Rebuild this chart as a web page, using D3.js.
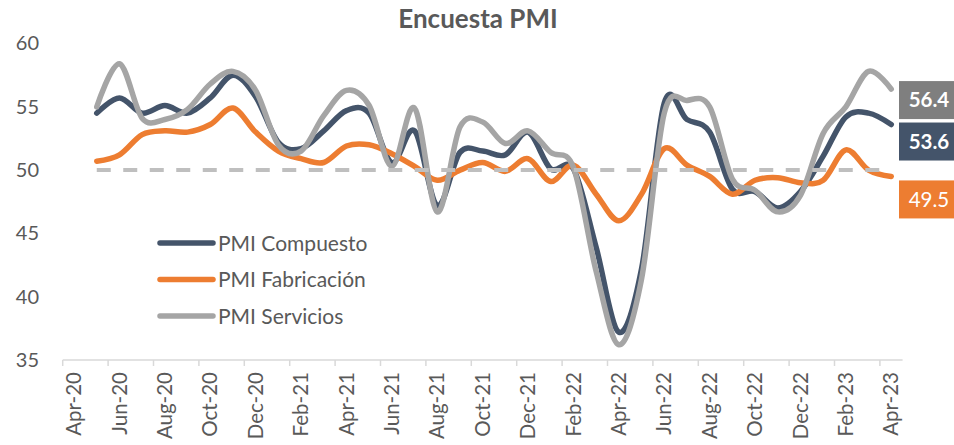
<!DOCTYPE html>
<html>
<head>
<meta charset="utf-8">
<script src="https://cdnjs.cloudflare.com/ajax/libs/d3/7.8.5/d3.min.js"></script>
<style>
	body { margin: 0; background: #fff; }
	text { font-family: Lato, "Open Sans", sans-serif; }
</style>
</head>
<body>
<svg id="chart" width="954" height="445"></svg>
<script>
/*--data--*/
var months = ["Apr-20", "May-20", "Jun-20", "Jul-20", "Aug-20", "Sep-20", "Oct-20", "Nov-20", "Dec-20",
	"Jan-21", "Feb-21", "Mar-21", "Apr-21", "May-21", "Jun-21", "Jul-21", "Aug-21", "Sep-21", "Oct-21", "Nov-21", "Dec-21",
	"Jan-22", "Feb-22", "Mar-22", "Apr-22", "May-22", "Jun-22", "Jul-22", "Aug-22", "Sep-22", "Oct-22", "Nov-22", "Dec-22",
	"Jan-23", "Feb-23", "Mar-23", "Apr-23"];

var compuesto = [null, 54.5, 55.7, 54.5, 55.1, 54.5, 55.7, 57.5, 55.8,
	52.2, 51.7, 53.1, 54.7, 54.5, 50.6, 53.1, 47.2, 51.4, 51.5, 51.2, 53.0,
	50.1, 50.1, 43.9, 37.2, 42.2, 55.3, 54.0, 53.0, 48.5, 48.3, 47.0, 48.3,
	51.1, 54.2, 54.5, 53.6];

var fabricacion = [null, 50.7, 51.2, 52.8, 53.1, 53.0, 53.6, 54.9, 53.0,
	51.5, 50.9, 50.6, 51.9, 52.0, 51.3, 50.3, 49.2, 50.0, 50.6, 49.9, 50.9,
	49.1, 50.4, 48.1, 46.0, 48.1, 51.7, 50.4, 49.5, 48.1, 49.2, 49.4, 49.0,
	49.2, 51.6, 50.0, 49.5];

var servicios = [null, 55.0, 58.4, 54.1, 54.0, 54.8, 56.8, 57.8, 56.3,
	52.0, 51.5, 54.3, 56.3, 55.1, 50.3, 54.9, 46.7, 53.4, 53.8, 52.1, 53.1,
	51.4, 50.2, 42.0, 36.2, 41.4, 54.5, 55.5, 55.0, 49.3, 48.4, 46.7, 48.0,
	52.9, 55.0, 57.8, 56.4];

var umbral = 50;
var yTicks = [35, 40, 45, 50, 55, 60];
var xTickLabels = months.filter(function (m, i) { return i % 2 === 0; });

var series = [
	{ name: "PMI Compuesto", values: compuesto, color: "#44546a", box: "#44546a", bold: true, dy: 17 },
	{ name: "PMI Fabricación", values: fabricacion, color: "#ed7d31", box: "#ed7d31", bold: false, dy: 23 },
	{ name: "PMI Servicios", values: servicios, color: "#a5a5a5", box: "#7f7f7f", bold: true, dy: 11 }
];

/*--scales--*/
var svg = d3.select("#chart");
var x = d3.scaleBand().domain(months).range([62.7, 902.6]).padding(0);
var y = d3.scaleLinear().domain([35, 60]).range([360, 43.5]);
var bw = x.bandwidth();
function cx(m) { return x(m) + bw / 2; }

//title
svg.append("text")
	.attr("x", 478).attr("y", 28)
	.attr("text-anchor", "middle")
	.style("font-size", "26px").style("font-weight", "bold")
	.style("fill", "#595959")
	.text("Encuesta PMI");

//y axis labels
var yAxis = svg.append("g")
	.attr("transform", "translate(39,0)")
	.call(d3.axisLeft(y).tickValues(yTicks).tickSize(0).tickPadding(0));
yAxis.select(".domain").remove();
yAxis.selectAll("text").style("font-size", "20px").style("fill", "#595959")
	.style("font-family", "Lato, 'Open Sans', sans-serif");

//x axis
var xAxis = svg.append("g")
	.attr("transform", "translate(0," + y(35) + ")")
	.call(d3.axisBottom(x).tickValues(xTickLabels).tickSizeOuter(0).tickSize(6));
xAxis.select(".domain").remove();
xAxis.selectAll(".tick line")
	.attr("x1", -bw / 2).attr("x2", -bw / 2)
	.style("stroke", "#d9d9d9").style("stroke-width", 1.5);
xAxis.selectAll(".tick text")
	.attr("transform", "rotate(-90)")
	.attr("x", -12).attr("y", 0).attr("dy", "0.35em")
	.attr("text-anchor", "end")
	.style("font-size", "20.5px").style("fill", "#595959")
	.style("font-family", "Lato, 'Open Sans', sans-serif");
svg.append("line")
	.attr("x1", x.range()[0]).attr("x2", x.range()[1])
	.attr("y1", y(35)).attr("y2", y(35))
	.style("stroke", "#d9d9d9").style("stroke-width", 1.5);

//lines
var line = d3.line()
	.defined(function (d) { return d.v !== null; })
	.x(function (d) { return cx(d.m); })
	.y(function (d) { return y(d.v); })
	.curve(d3.curveCardinal.tension(0));

series.forEach(function (s) {
	var pts = months.map(function (m, i) { return { m: m, v: s.values[i] }; });
	svg.append("path")
		.attr("d", line(pts))
		.style("fill", "none")
		.style("stroke", s.color)
		.style("stroke-width", 5.5)
		.style("stroke-linejoin", "round")
		.style("stroke-linecap", "round");
});

//50 line
var ref = months.map(function (m, i) { return { m: m, v: compuesto[i] === null ? null : umbral }; });
svg.append("path")
	.attr("d", d3.line().defined(function (d) { return d.v !== null; })
		.x(function (d) { return cx(d.m); }).y(function (d) { return y(d.v); })(ref))
	.style("fill", "none")
	.style("stroke", "#bfbfbf")
	.style("stroke-width", 4)
	.style("stroke-dasharray", "14,12.5");

//end labels
series.forEach(function (s) {
	var last = s.values[s.values.length - 1];
	var yc = y(last) + s.dy;
	svg.append("rect")
		.attr("x", 899).attr("y", yc - 19)
		.attr("width", 56).attr("height", 38)
		.style("fill", s.box);
	svg.append("text")
		.attr("x", 929).attr("y", yc).attr("dy", "0.36em")
		.attr("text-anchor", "middle")
		.style("font-size", "20.5px")
		.style("font-weight", s.bold ? "bold" : "normal")
		.style("fill", "#fff")
		.text(d3.format(".1f")(last));
});

//legend
var legend = svg.append("g").attr("transform", "translate(160,243)");
series.forEach(function (s, i) {
	var g = legend.append("g").attr("transform", "translate(0," + (i * 36.5) + ")");
	g.append("line")
		.attr("x1", 0).attr("x2", 53)
		.style("stroke", s.color).style("stroke-width", 5.5)
		.style("stroke-linecap", "round");
	g.append("text")
		.attr("x", 58).attr("dy", "0.36em")
		.style("font-size", "21px").style("fill", "#595959")
		.text(s.name);
});
</script>
</body>
</html>
